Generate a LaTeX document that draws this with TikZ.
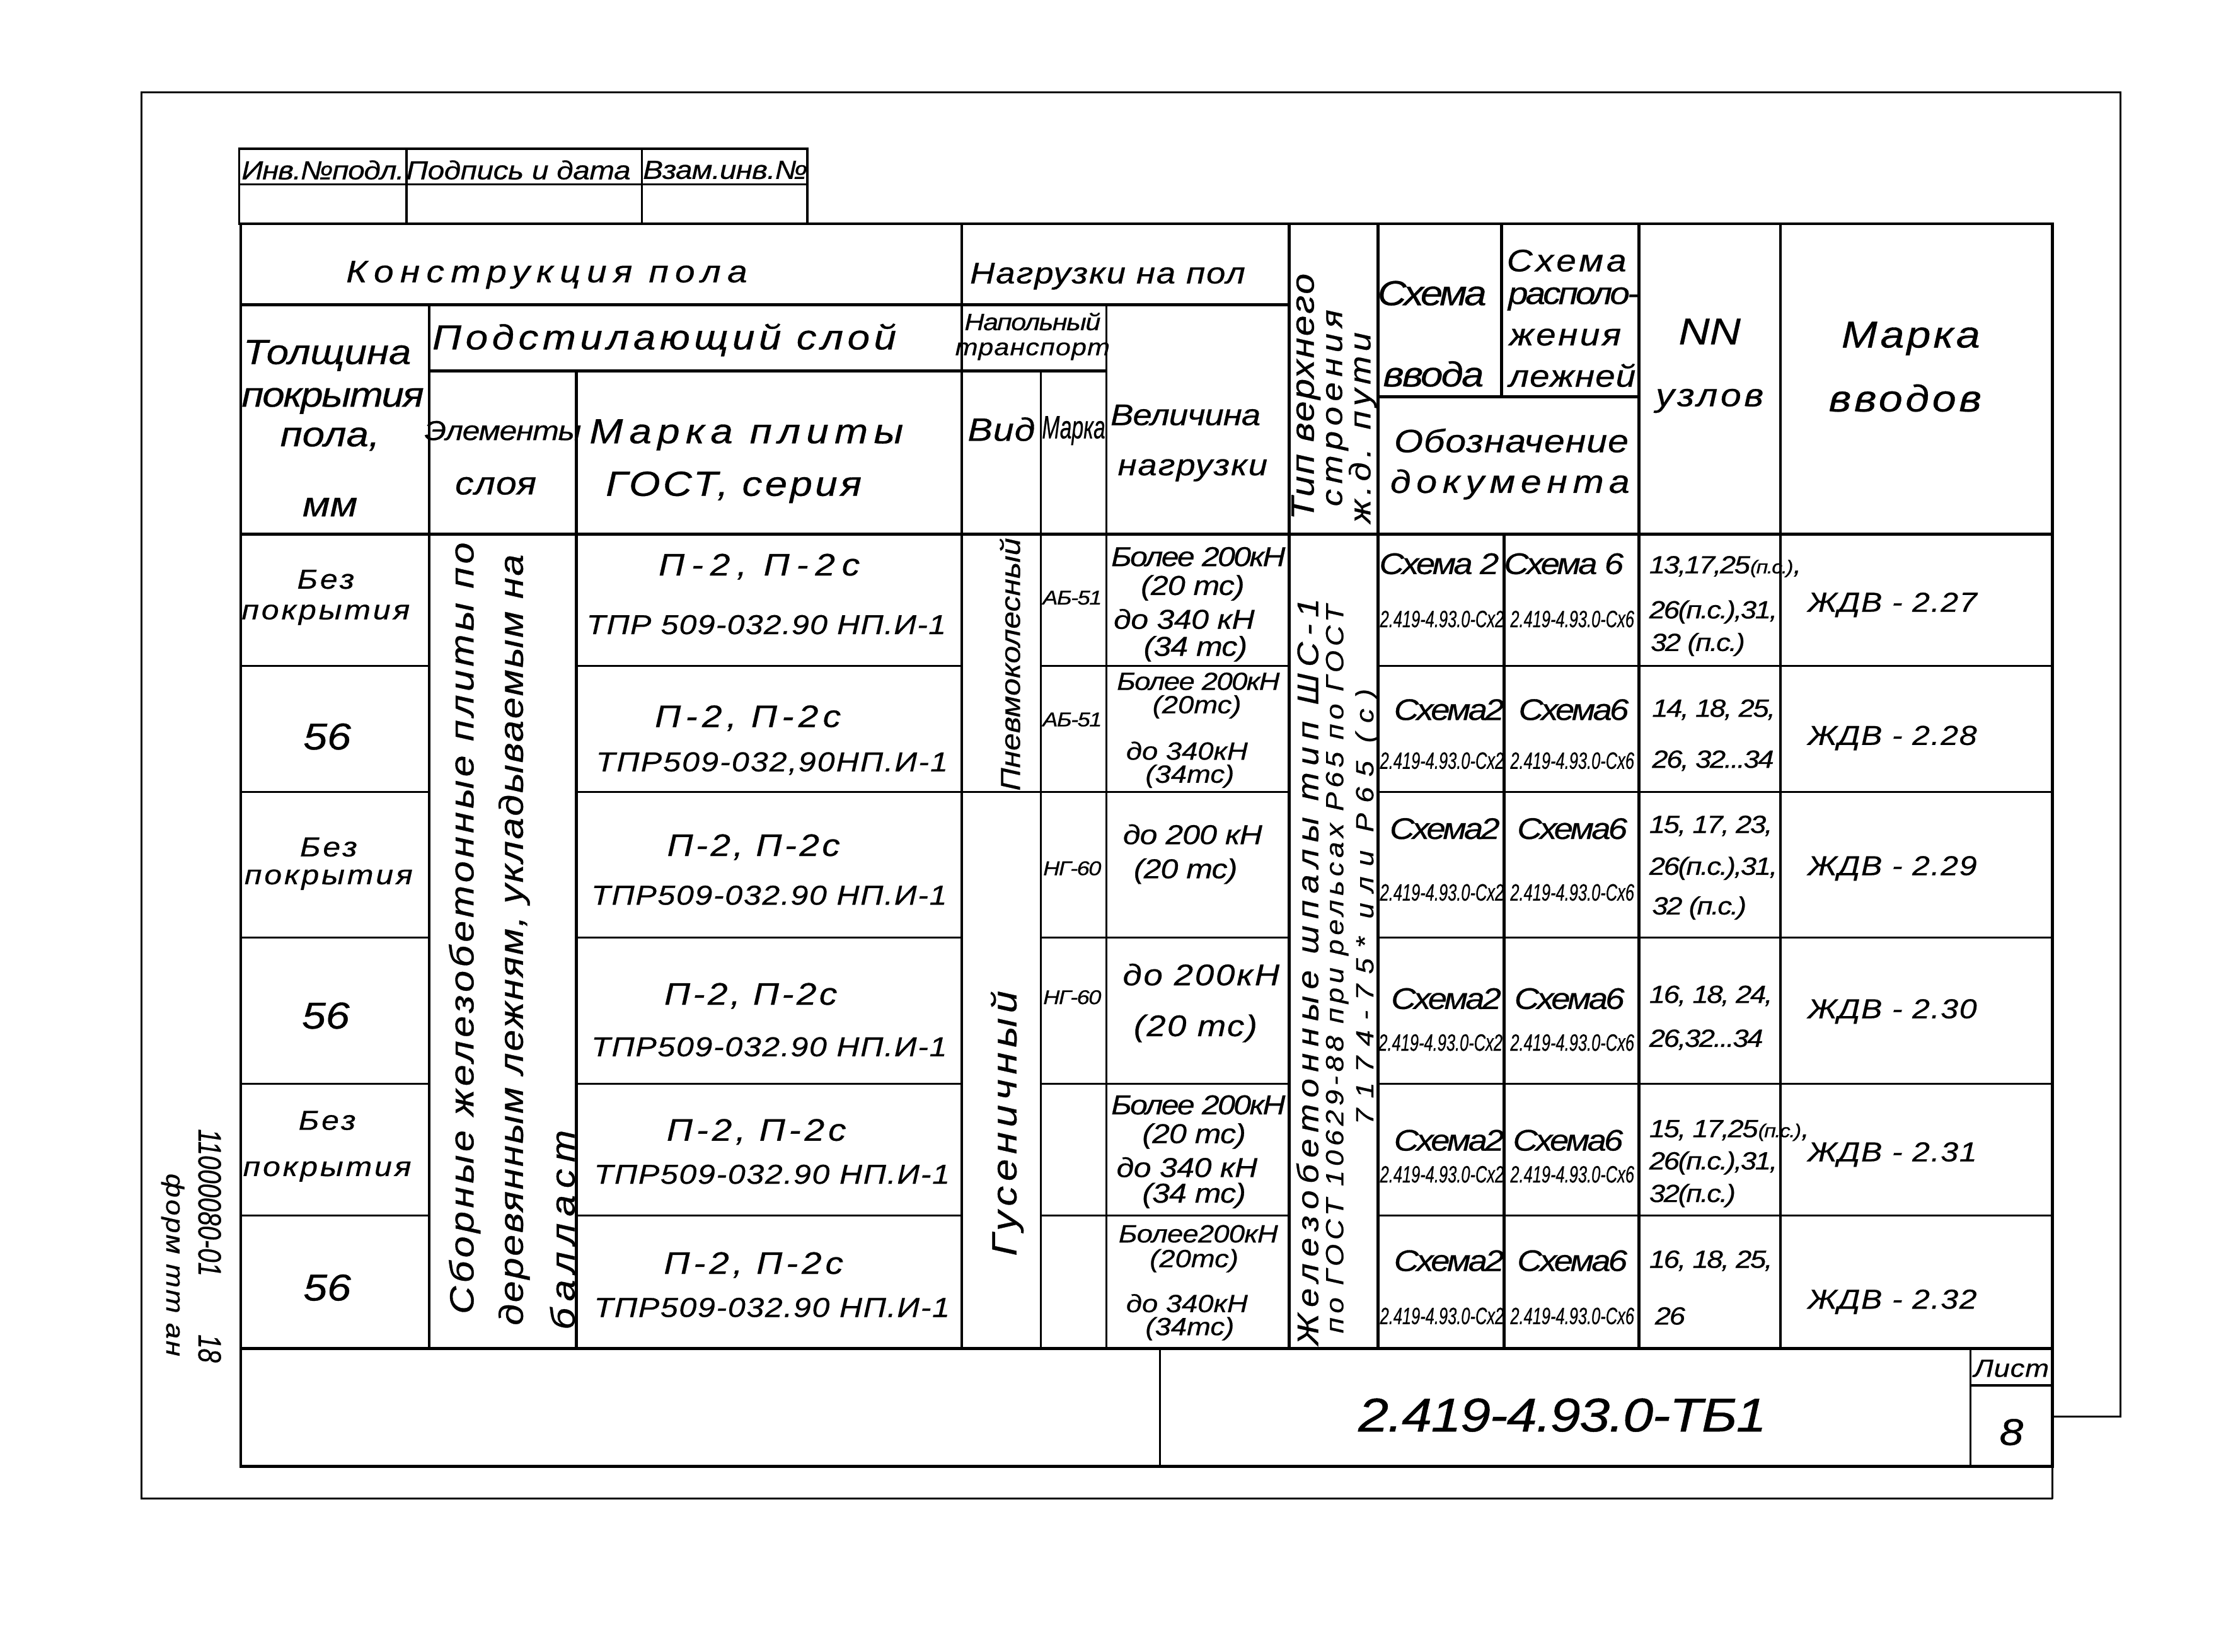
\documentclass[tikz,border=0pt]{standalone}
\usepackage{fontspec}
\setmainfont{Liberation Sans}[FakeStretch=1.15,FakeBold=0.6]
\usepackage{graphicx}
\usepackage{tikz}
\newcommand{\narr}[2]{\scalebox{#1}[1]{#2}}
\newcommand{\pcsmall}{{\fontsize{7.5}{7.5}\selectfont(п.с.)}}

\begin{document}
\begin{tikzpicture}[x=0.02cm,y=-0.02cm]
\tikzstyle{frame line}=[line width=0.8pt]
\tikzstyle{grid line}=[line width=1.2pt]
\tikzstyle{row line}=[line width=0.8pt]

\tikzset{
	txt/.style 2 args={font=\itshape\fontsize{#1}{#1}\selectfont\addfontfeature{LetterSpace=#2},inner sep=0pt},
	up text/.style={rotate=90},
	down text/.style={rotate=-90}
}

\useasboundingbox (0,0) rectangle (1568,1166);

% outer frame and stamp
\draw[frame line] (1449,1058) -- (100,1058) -- (100,65) -- (1497,65) -- (1497,1000) -- (1449,1000);
\draw[frame line] (1449,1035) -- (1449,1058);
\draw[frame line] (169,105) rectangle (570,158);
\draw[frame line] (169,130) -- (570,130);
\draw[frame line] (287,105) -- (287,158);
\draw[frame line] (453,105) -- (453,158);

% table grid
\draw[grid line] (170,158) rectangle (1449,1035);
\draw[grid line] (170,215) -- (910,215);
\draw[grid line] (303,262) -- (781,262);
\draw[grid line] (973,280) -- (1157,280);
\draw[grid line] (170,377) -- (1449,377);
\draw[grid line] (170,952) -- (1449,952);
\draw[row line] (1391,978) -- (1449,978);
\draw[grid line] (303,215) -- (303,952);
\draw[grid line] (407,262) -- (407,952);
\draw[grid line] (679,158) -- (679,952);
\draw[row line] (735,262) -- (735,952);
\draw[row line] (781,215) -- (781,952);
\draw[grid line] (910,158) -- (910,952);
\draw[grid line] (973,158) -- (973,952);
\draw[grid line] (1060,158) -- (1060,280);
\draw[grid line] (1062,377) -- (1062,952);
\draw[grid line] (1157,158) -- (1157,952);
\draw[grid line] (1257,158) -- (1257,952);
\draw[row line] (819,952) -- (819,1035);
\draw[row line] (1391,952) -- (1391,1035);

\draw[row line] (170,470) -- (303,470) (407,470) -- (679,470) (735,470) -- (910,470) (973,470) -- (1449,470);
\draw[row line] (170,559) -- (303,559) (407,559) -- (910,559) (973,559) -- (1449,559);
\draw[row line] (170,662) -- (303,662) (407,662) -- (679,662) (735,662) -- (910,662) (973,662) -- (1449,662);
\draw[row line] (170,765) -- (303,765) (407,765) -- (679,765) (735,765) -- (910,765) (973,765) -- (1449,765);
\draw[row line] (170,858) -- (303,858) (407,858) -- (679,858) (735,858) -- (910,858) (973,858) -- (1449,858);

% stamp and margin texts
\node[txt={10.5}{-3}] (inv) at (228,120) {Инв.№подл.};
\node[txt={10.5}{-1}] (podp) at (366,120) {Подпись и дата};
\node[txt={10.5}{-2}] (vzam) at (512,120) {Взам.инв.№};
\node[txt={13}{0},down text] (num) at (148,849) {\narr{0.68}{11000080-01}};
\node[txt={13}{0},down text] (sheetno) at (148,952) {\narr{0.68}{18}};
\node[txt={10}{7},down text] (form) at (122,893) {форм тт ан};

% header
\node[txt={12.5}{21}] (konstr) at (386,194) {Конструкция пола};
\node[txt={12}{4}] (nagr) at (782,195) {Нагрузки на пол};
\node[txt={14}{0}] (tol1) at (231,251) {Толщина};
\node[txt={14}{-4}] (tol2) at (235,283) {покрытия};
\node[txt={14}{0}] (tol3) at (233,310) {пола,};
\node[txt={14}{0}] (tol4) at (233,358) {мм};
\node[txt={14}{12}] (podst) at (469,240) {Подстилающий слой};
\node[txt={9.5}{-4}] (transp1) at (729,227) {Напольный};
\node[txt={9.5}{3}] (transp2) at (729,248) {транспорт};
\node[txt={11}{-3}] (elem1) at (355,304) {Элементы};
\node[txt={13}{2}] (elem2) at (350,343) {слоя};
\node[txt={14}{17}] (plita1) at (527,307) {Марка плиты};
\node[txt={14}{8}] (plita2) at (518,344) {ГОСТ, серия};
\node[txt={13}{2}] (vid) at (707,303) {Вид};
\node[txt={13}{0}] (marka) at (758,304) {\narr{0.57}{Марка}};
\node[txt={12}{-2}] (velich1) at (837,293) {Величина};
\node[txt={12}{4}] (velich2) at (842,332) {нагрузки};
\node[txt={13}{5},up text] (tip1) at (922,280) {Тип верхнего};
\node[txt={12}{18},up text] (tip2) at (944,288) {строения};
\node[txt={12}{15},up text] (tip3) at (962,302) {ж.д. пути};
\node[txt={14}{-8}] (vvod1) at (1011,207) {Схема};
\node[txt={14}{-5}] (vvod2) at (1012,264) {ввода};
\node[txt={12.5}{10}] (rasp1) at (1106,184) {Схема};
\node[txt={12.5}{-8}] (rasp2) at (1111,211) {располо-};
\node[txt={12.5}{7}] (rasp3) at (1105,238) {жения};
\node[txt={12.5}{2}] (rasp4) at (1110,265) {лежней};
\node[txt={13}{2}] (oboz1) at (1067,311) {Обозначение};
\node[txt={13}{17}] (oboz2) at (1066,342) {документа};
\node[txt={15}{0}] (nn1) at (1207,234) {NN};
\node[txt={13}{9}] (nn2) at (1207,283) {узлов};
\node[txt={15}{7}] (mv1) at (1349,239) {Марка};
\node[txt={15}{8}] (mv2) at (1345,281) {вводов};

% merged cells
\node[txt={13.5}{10},up text,anchor=west] (sb1) at (328,928) {Сборные железобетонные плиты по};
\node[txt={13.5}{5},up text,anchor=west] (sb2) at (363,936) {деревянным лежням, укладываемым на};
\node[txt={13.5}{20},up text,anchor=west] (sb3) at (397,939) {балласт};
\node[txt={11}{0},up text] (pnevmo) at (713,469) {Пневмоколесный};
\node[txt={14}{14},up text] (gusen) at (711,793) {Гусеничный};
\node[txt={12}{22},up text] (shp1) at (923,686) {Железобетонные шпалы тип ШС-1};
\node[txt={10}{17},up text] (shp2) at (944,684) {по ГОСТ 10629-88 при рельсах Р65 по ГОСТ};
\node[txt={10}{41},up text] (shp3) at (965,640) {7174-75* или Р65 (с)};

% row 1
\node[txt={11}{9}] (r1t1) at (230,409) {Без};
\node[txt={11}{9}] (r1t2) at (230,434) {покрытия};
\node[txt={12.5}{22}] (r1p1) at (536,400) {П-2, П-2с};
\node[txt={11}{3}] (r1p2) at (541,441) {ТПР 509-032.90 НП.И-1};
\node[txt={8}{-5}] (r1m) at (757,422) {АБ-51};
\node[txt={11}{-6}] (r1v1) at (846,393) {Более 200кН};
\node[txt={11}{-2}] (r1v2) at (842,415) {(20 тс)};
\node[txt={11}{-1}] (r1v3) at (836,437) {до 340 кН};
\node[txt={11}{-2}] (r1v4) at (844,458) {(34 тс)};
\node[txt={12}{-8}] (r1s2) at (1016,398) {Схема 2};
\node[txt={9.5}{0}] (r1c2) at (1018,437) {\narr{0.59}{2.419-4.93.0-Сх2}};
\node[txt={12}{-8}] (r1s6) at (1104,398) {Схема 6};
\node[txt={9.5}{0}] (r1c6) at (1110,437) {\narr{0.59}{2.419-4.93.0-Сх6}};
\node[txt={10}{-6},anchor=west] (r1n1) at (1164,400) {13,17,25\pcsmall,};
\node[txt={10}{-6},anchor=west] (r1n2) at (1164,432) {26(п.с.),31,};
\node[txt={10}{-6},anchor=west] (r1n3) at (1165,455) {32 (п.с.)};
\node[txt={11}{4}] (r1z) at (1336,427) {ЖДВ - 2.27};

% row 2
\node[txt={15}{0}] (r2t) at (231,520) {56};
\node[txt={12.5}{15}] (r2p1) at (528,507) {П-2, П-2с};
\node[txt={11}{5}] (r2p2) at (545,539) {ТПР509-032,90НП.И-1};
\node[txt={8}{-5}] (r2m) at (757,508) {АБ-51};
\node[txt={10}{-4}] (r2v1) at (846,481) {Более 200кН};
\node[txt={10}{0}] (r2v2) at (845,499) {(20тс)};
\node[txt={10}{0}] (r2v3) at (838,530) {до 340кН};
\node[txt={10}{0}] (r2v4) at (840,548) {(34тс)};
\node[txt={12}{-8}] (r2s2) at (1023,501) {Схема2};
\node[txt={9.5}{0}] (r2c2) at (1018,537) {\narr{0.59}{2.419-4.93.0-Сх2}};
\node[txt={12}{-8}] (r2s6) at (1111,501) {Схема6};
\node[txt={9.5}{0}] (r2c6) at (1110,537) {\narr{0.59}{2.419-4.93.0-Сх6}};
\node[txt={10}{-6},anchor=west] (r2n1) at (1166,501) {14, 18, 25,};
\node[txt={10}{-6},anchor=west] (r2n2) at (1166,537) {26, 32...34};
\node[txt={11}{4}] (r2z) at (1336,521) {ЖДВ - 2.28};

% row 3
\node[txt={11}{9}] (r3t1) at (232,598) {Без};
\node[txt={11}{9}] (r3t2) at (232,621) {покрытия};
\node[txt={12.5}{9}] (r3p1) at (532,598) {П-2, П-2с};
\node[txt={11}{4}] (r3p2) at (543,632) {ТПР509-032.90 НП.И-1};
\node[txt={8}{-5}] (r3m) at (757,613) {НГ-60};
\node[txt={11}{-2}] (r3v1) at (842,589) {до 200 кН};
\node[txt={11}{-2}] (r3v2) at (837,615) {(20 тс)};
\node[txt={12}{-8}] (r3s2) at (1020,585) {Схема2};
\node[txt={9.5}{0}] (r3c2) at (1018,630) {\narr{0.59}{2.419-4.93.0-Сх2}};
\node[txt={12}{-8}] (r3s6) at (1110,585) {Схема6};
\node[txt={9.5}{0}] (r3c6) at (1110,630) {\narr{0.59}{2.419-4.93.0-Сх6}};
\node[txt={10}{-6},anchor=west] (r3n1) at (1164,583) {15, 17, 23,};
\node[txt={10}{-6},anchor=west] (r3n2) at (1164,613) {26(п.с.),31,};
\node[txt={10}{-6},anchor=west] (r3n3) at (1166,641) {32 (п.с.)};
\node[txt={11}{4}] (r3z) at (1336,613) {ЖДВ - 2.29};

% row 4
\node[txt={15}{0}] (r4t) at (230,717) {56};
\node[txt={12.5}{9}] (r4p1) at (530,703) {П-2, П-2с};
\node[txt={11}{4}] (r4p2) at (543,739) {ТПР509-032.90 НП.И-1};
\node[txt={8}{-5}] (r4m) at (757,704) {НГ-60};
\node[txt={12}{6}] (r4v1) at (848,688) {до 200кН};
\node[txt={12}{5}] (r4v2) at (844,726) {(20 тс)};
\node[txt={12}{-8}] (r4s2) at (1021,705) {Схема2};
\node[txt={9.5}{0}] (r4c2) at (1017,736) {\narr{0.59}{2.419-4.93.0-Сх2}};
\node[txt={12}{-8}] (r4s6) at (1108,705) {Схема6};
\node[txt={9.5}{0}] (r4c6) at (1110,736) {\narr{0.59}{2.419-4.93.0-Сх6}};
\node[txt={10}{-6},anchor=west] (r4n1) at (1164,703) {16, 18, 24,};
\node[txt={10}{-6},anchor=west] (r4n2) at (1164,734) {26,32...34};
\node[txt={11}{4}] (r4z) at (1336,714) {ЖДВ - 2.30};

% row 5
\node[txt={11}{9}] (r5t1) at (231,791) {Без};
\node[txt={11}{9}] (r5t2) at (231,827) {покрытия};
\node[txt={12.5}{12}] (r5p1) at (534,799) {П-2, П-2с};
\node[txt={11}{4}] (r5p2) at (545,829) {ТПР509-032.90 НП.И-1};
\node[txt={11}{-6}] (r5v1) at (846,780) {Более 200кН};
\node[txt={11}{-2}] (r5v2) at (843,802) {(20 тс)};
\node[txt={11}{-1}] (r5v3) at (838,824) {до 340 кН};
\node[txt={11}{-2}] (r5v4) at (843,844) {(34 тс)};
\node[txt={12}{-8}] (r5s2) at (1023,805) {Схема2};
\node[txt={9.5}{0}] (r5c2) at (1018,829) {\narr{0.59}{2.419-4.93.0-Сх2}};
\node[txt={12}{-8}] (r5s6) at (1107,805) {Схема6};
\node[txt={9.5}{0}] (r5c6) at (1110,829) {\narr{0.59}{2.419-4.93.0-Сх6}};
\node[txt={10}{-6},anchor=west] (r5n1) at (1164,798) {15, 17,25\pcsmall,};
\node[txt={10}{-6},anchor=west] (r5n2) at (1164,821) {26(п.с.),31,};
\node[txt={10}{-6},anchor=west] (r5n3) at (1164,844) {32(п.с.)};
\node[txt={11}{4}] (r5z) at (1336,815) {ЖДВ - 2.31};

% row 6
\node[txt={15}{0}] (r6t) at (231,909) {56};
\node[txt={12.5}{12}] (r6p1) at (532,893) {П-2, П-2с};
\node[txt={11}{4}] (r6p2) at (545,923) {ТПР509-032.90 НП.И-1};
\node[txt={10}{-2}] (r6v1) at (846,871) {Более200кН};
\node[txt={10}{0}] (r6v2) at (843,890) {(20тс)};
\node[txt={10}{0}] (r6v3) at (838,920) {до 340кН};
\node[txt={10}{0}] (r6v4) at (840,938) {(34тс)};
\node[txt={12}{-8}] (r6s2) at (1023,890) {Схема2};
\node[txt={9.5}{0}] (r6c2) at (1018,929) {\narr{0.59}{2.419-4.93.0-Сх2}};
\node[txt={12}{-8}] (r6s6) at (1110,890) {Схема6};
\node[txt={9.5}{0}] (r6c6) at (1110,929) {\narr{0.59}{2.419-4.93.0-Сх6}};
\node[txt={10}{-6},anchor=west] (r6n1) at (1164,890) {16, 18, 25,};
\node[txt={10}{-6},anchor=west] (r6n2) at (1168,929) {26};
\node[txt={11}{4}] (r6z) at (1336,919) {ЖДВ - 2.32};

% title block
\node[txt={19}{-2}] (title) at (1103,999) {2.419-4.93.0-ТБ1};
\node[txt={10}{2}] (list) at (1420,966) {Лист};
\node[txt={15}{0}] (listno) at (1420,1011) {8};
\end{tikzpicture}
\end{document}
